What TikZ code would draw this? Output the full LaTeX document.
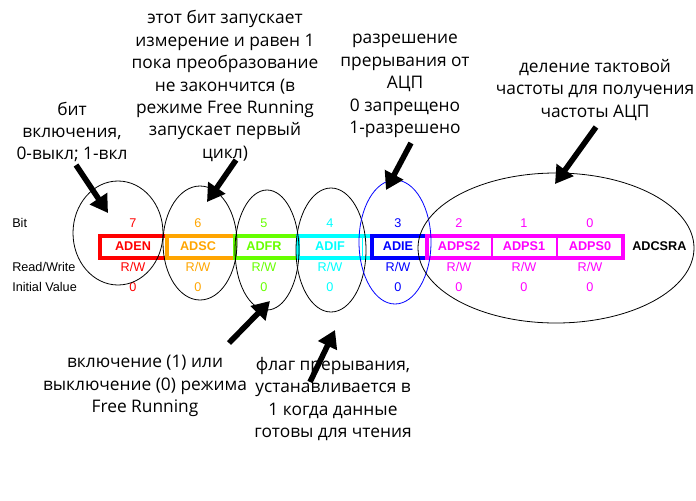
\documentclass[tikz,border=0pt]{standalone}
\usepackage{fontspec}
\setmainfont{Open Sans}
\newfontfamily\regf{Liberation Sans}
\usetikzlibrary{arrows.meta}
\definecolor{cR}{RGB}{255,0,0}
\definecolor{cO}{RGB}{255,165,0}
\definecolor{cG}{RGB}{102,255,0}
\definecolor{cC}{RGB}{0,255,255}
\definecolor{cB}{RGB}{0,0,255}
\definecolor{cM}{RGB}{255,0,255}
\tikzset{
 note/.style={align=center,font=\fontsize{13}{16.8}\selectfont,inner sep=0pt},
 reg/.style={font=\regf\fontsize{9.5}{11}\selectfont,inner sep=0pt},
 regb/.style={font=\regf\bfseries\fontsize{9.5}{11}\selectfont,inner sep=0pt},
 pt/.style={line width=4.2pt,-{Triangle[length=13pt,width=15pt]}},
 ell/.style={draw,line width=0.6pt}
}
\begin{document}
\begin{tikzpicture}[x=0.75pt,y=-0.75pt]
\useasboundingbox (0,0) rectangle (696,500);
% register boxes
\foreach \a/\b/\c in {100/167/cR,167/235/cO,235/298/cG,298/372/cC,372/427/cB}{
 \draw[\c,line width=3pt] (\a,235.5) rectangle (\b,257.5);
}
\draw[cC,line width=0.6pt] (362,237) -- (362,256);
\draw[cM,line width=3pt] (427,235.5) rectangle (623,257.5);
\draw[cM,line width=0.8pt] (492,237) -- (492,256) (557,237) -- (557,256);
% labels
\node[reg,anchor=west] (lb) at (12,223) {Bit};
\node[reg,anchor=west] (lrw) at (12,267) {Read/Write};
\node[reg,anchor=west] (liv) at (12,287) {Initial Value};
\foreach \x/\c/\t/\n [count=\i] in {133/cR/ADEN/7,198/cO/ADSC/6,264/cG/ADFR/5,330/cC/ADIF/4,398/cB/ADIE/3,459/cM/ADPS2/2,524/cM/ADPS1/1,590/cM/ADPS0/0}{
 \node[reg,text=\c] (b\i) at (\x,223) {\n};
 \node[regb,text=\c] (n\i) at (\x,246.5) {\t};
 \node[reg,text=\c] (r\i) at (\x,267) {R/W};
 \node[reg,text=\c] (v\i) at (\x,287) {0};
}
\node[regb,anchor=west] (adcsra) at (632,246.5) {ADCSRA};
% ellipses
\draw[ell] (118,233) ellipse [x radius=45,y radius=52];
\draw[ell] (200,243) ellipse [x radius=37,y radius=57];
\draw[ell] (267,250) ellipse [x radius=32,y radius=60];
\draw[ell] (331,250) ellipse [x radius=35,y radius=62];
\draw[ell,cB] (395,242) ellipse [x radius=36,y radius=62];
\draw[ell] (556,248) ellipse [x radius=138,y radius=75];
% notes
\node[note] (t1) at (72,132) {бит\\включения,\\0-выкл; 1-вкл};
\node[note] (t2) at (225,86) {этот бит запускает\\измерение и равен 1\\пока преобразование\\не закончится (в\\режиме Free Running\\запускает первый\\цикл)};
\node[note] (t3) at (405,86) {разрешение\\прерывания от\\АЦП\\0 запрещено\\1-разрешено};
\node[note] (t4) at (595,90) {деление тактовой\\частоты для получения\\частоты АЦП};
\node[note] (t5) at (145,386) {включение (1) или\\выключение (0) режима\\Free Running};
\node[note] (t6) at (333,399) {флаг прерывания,\\устанавливается в\\1 когда данные\\готовы для чтения};
% arrows
\coordinate (a1s) at (76,165); \coordinate (a1e) at (108,213);
\coordinate (a2s) at (236,160); \coordinate (a2e) at (207,202);
\coordinate (a3s) at (411,143); \coordinate (a3e) at (386,190);
\coordinate (a4s) at (596,127); \coordinate (a4e) at (555,184);
\coordinate (a5s) at (229,343); \coordinate (a5e) at (270,301);
\coordinate (a6s) at (310,382); \coordinate (a6e) at (335,330);
\foreach \k in {1,...,6}{\draw[pt] (a\k s) -- (a\k e);}
\end{tikzpicture}
\end{document}
